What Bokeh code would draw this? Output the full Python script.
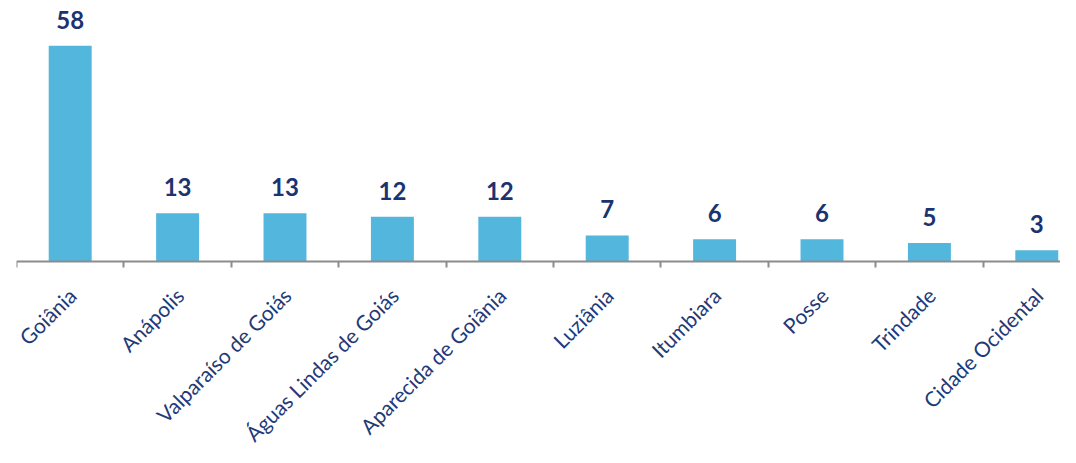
import math
from bokeh.plotting import figure
from bokeh.models import ColumnDataSource, FixedTicker, Range1d
from bokeh.core.properties import value
from bokeh.embed import file_html
from bokeh.resources import INLINE

cities = ["Goiânia", "Anápolis", "Valparaíso de Goiás", "Águas Lindas de Goiás",
          "Aparecida de Goiânia", "Luziânia", "Itumbiara", "Posse", "Trindade",
          "Cidade Ocidental"]
counts = [58, 13, 13, 12, 12, 7, 6, 6, 5, 3]

xs = list(range(len(cities)))
src = ColumnDataSource(dict(x=xs, y=counts, base=[0] * len(xs), city=cities,
                            lbl=[str(v) for v in counts]))

BAR = "#53B6DC"
NAVY = "#1B3370"
NAVY2 = "#1E3A78"
GRAY = "#8C8C8C"
PX = 3.72  # pixels per unit

p = figure(width=1060, height=447, output_backend="svg", toolbar_location=None,
           x_axis_location="above", y_axis_location=None,
           x_range=Range1d(-0.5, -0.5 + 1044 / 107.4),
           y_range=Range1d(-186 / PX, 253 / PX),
           min_border_left=16, min_border_right=0, min_border_top=8,
           min_border_bottom=0)
p.outline_line_color = None
p.xgrid.visible = False
p.ygrid.visible = False
p.background_fill_color = "white"
p.border_fill_color = "white"

p.vbar(x="x", top="y", width=0.4, source=src, fill_color=BAR, line_color=None)
p.text(x="x", y="y", text="lbl", source=src, text_align="center",
       text_baseline="alphabetic", y_offset=-26, text_color=NAVY,
       text_font=value("Lato"), text_font_style="bold", text_font_size="24px")

# category labels below the baseline
p.text(x="x", y="base", text="city", source=src, angle=math.pi / 4,
       text_align="right", text_baseline="middle", x_offset=2, y_offset=30,
       text_color=NAVY2, text_font=value("Lato"), text_font_size="21px")

ax = p.xaxis[0]
ax.fixed_location = 0
ax.ticker = FixedTicker(ticks=[], minor_ticks=[i - 0.5 for i in range(len(cities) + 1)])
ax.major_label_text_font_size = "0px"
ax.major_label_standoff = 0
ax.major_tick_out = 0
ax.major_tick_in = 0
ax.minor_tick_out = 0
ax.minor_tick_in = 6
ax.minor_tick_line_color = GRAY
ax.minor_tick_line_width = 2
ax.axis_line_color = GRAY
ax.axis_line_width = 2

open("out.html", "w").write(file_html(p, INLINE))
